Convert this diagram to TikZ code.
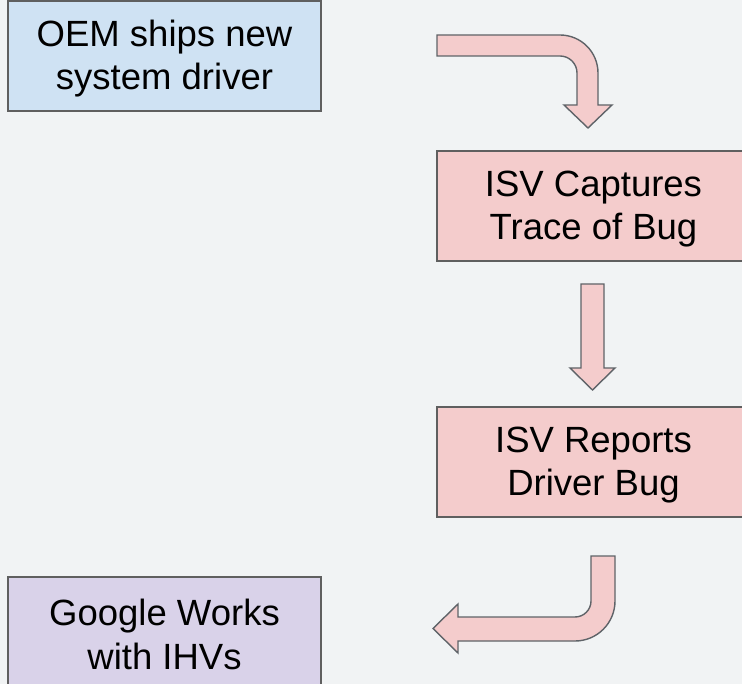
\documentclass[tikz,border=0pt]{standalone}
\usepackage{fontspec}
\setmainfont{Liberation Sans}
\definecolor{bg}{HTML}{F1F3F4}
\definecolor{blueF}{HTML}{CFE2F3}
\definecolor{pinkF}{HTML}{F4CCCC}
\definecolor{lilacF}{HTML}{D9D2E9}
\definecolor{edge}{HTML}{5F5F5F}
\definecolor{arrowedge}{HTML}{5F6368}
\tikzset{
  box/.style={draw=edge, line width=1.4pt, minimum width=313pt, minimum height=110pt,
    inner sep=0pt},
  boxtext/.style={align=center, inner sep=0pt, font=\fontsize{36.5}{43.5}\selectfont},
  blockarrow/.style={draw=arrowedge, fill=pinkF, line width=1.4pt, line join=miter}
}
\begin{document}
\begin{tikzpicture}[x=1pt,y=-1pt]
\clip (0,0) rectangle (742,684);
\fill[bg] (0,0) rectangle (742,684);

\node[box, fill=blueF]  (b1) at (164.5,56)  {};
\node[box, fill=pinkF]  (b2) at (593.5,206) {};
\node[box, fill=pinkF]  (b3) at (593.5,462) {};
\node[box, fill=lilacF] (b4) at (164.5,632) {};
\node[boxtext] (t1) at ([yshift=-2.5pt]b1.center) {OEM ships new\\system driver};
\node[boxtext] (t2) at ([yshift=-3pt]b2.center) {ISV Captures\\Trace of Bug};
\node[boxtext] (t3) at ([yshift=-3pt]b3.center) {ISV Reports\\Driver Bug};
\node[boxtext] (t4) at ([yshift=-2.5pt]b4.center) {Google Works\\with IHVs};

% bent arrow from top toward b2
\coordinate (a1s) at (437,35);
\draw[blockarrow] (a1s) -- (560,35) arc[start angle=-90, end angle=0, radius=38]
  -- (598,105) -- (612,105) -- (588,128) -- (564,105) -- (577,105) -- (577,73)
  arc[start angle=0, end angle=-90, radius=17] -- (437,56) -- cycle;

% straight arrow between b2 and b3
\coordinate (a2s) at (581,284);
\draw[blockarrow] (a2s) -- (604,284) -- (604,368) -- (615,368) -- (592.5,390)
  -- (570,368) -- (581,368) -- cycle;

% bent arrow from b3 toward b4
\coordinate (a3s) at (591,556);
\draw[blockarrow] (a3s) -- (615,556) -- (615,601) arc[start angle=0, end angle=90, radius=40]
  -- (458,641) -- (458,653) -- (433,628.5) -- (458,604) -- (458,617) -- (575,617)
  arc[start angle=90, end angle=0, radius=16] -- cycle;
\end{tikzpicture}
\end{document}
